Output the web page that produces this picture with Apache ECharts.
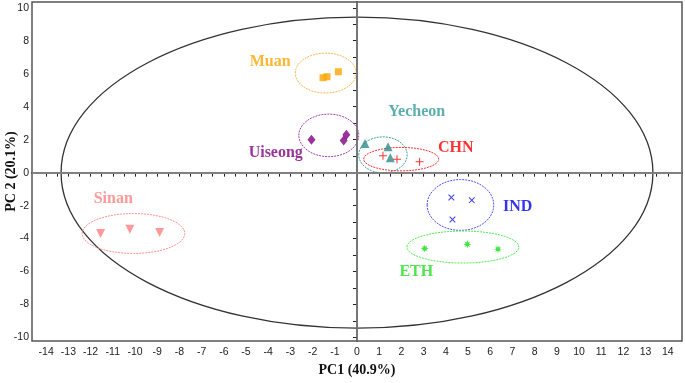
<!DOCTYPE html>
<html>
<head>
<meta charset="utf-8">
<script src="https://cdn.jsdelivr.net/npm/echarts@6/dist/echarts.min.js"></script>
<style>
  html, body { margin: 0; padding: 0; background: #fff; }
  #main { width: 685px; height: 383px; }
</style>
</head>
<body>
<div id="main"></div>
<script>
// sample scores on PC1 / PC2
var muan    = [[-1.53, 5.76], [-1.35, 5.82], [-0.84, 6.12]];
var uiseong = [[-2.05, 2.00], [-0.48, 2.30], [-0.60, 1.95]];
var yecheon = [[0.36, 1.77], [1.40, 1.57], [1.50, 0.90]];
var chn     = [[1.17, 1.02], [1.80, 0.82], [2.82, 0.66]];
var sinan   = [[-11.55, -3.69], [-10.23, -3.43], [-8.89, -3.63]];
var ind     = [[4.25, -1.51], [5.17, -1.67], [4.30, -2.84]];
var eth     = [[3.05, -4.60], [4.97, -4.34], [6.35, -4.64]];

// group ellipses: centre x, centre y, half width, half height
var groupEllipses = [
  [-1.41, 6.04, 1.37, 1.21],
  [-1.27, 2.26, 1.35, 1.29],
  [1.17, 1.08, 1.09, 1.09],
  [1.99, 0.82, 1.69, 0.71],
  [-10.07, -3.69, 2.31, 1.21],
  [4.66, -1.96, 1.50, 1.54],
  [4.77, -4.51, 2.52, 0.97]
];
// Hotelling T2 ellipse
var bigEllipse = [[0, 0, 13.33, 9.43]];

var xLabels = [];
for (var i = -14; i <= 14; i++) xLabels.push(i);
var xTicks = [];
for (var i = -28; i <= 28; i++) xTicks.push(i / 2);
var yLabels = [-10, -8, -6, -4, -2, 0, 2, 4, 6, 8, 10];
var yTicks = [];
for (var i = -10; i <= 10; i++) yTicks.push(i);

var colors = {
  Muan: '#FFA500', Uiseong: '#800080', Yecheon: '#2E8B8B', CHN: '#FF0000',
  Sinan: '#FF7F7F', IND: '#1010DD', ETH: '#11DD11'
};
var ringColors = ['#FFB84D', '#A040B0', '#40A0A0', '#FF3030', '#FF9090', '#5050FF', '#50EE50'];

var plusPath = 'path://M3.5,0H4.5V3.5H8V4.5H4.5V8H3.5V4.5H0V3.5H3.5Z';
var starPath = 'path://M4,0L4.7,2.3L6.8,1.2L5.7,3.3L8,4L5.7,4.7L6.8,6.8L4.7,5.7L4,8L3.3,5.7L1.2,6.8L2.3,4.7L0,4L2.3,3.3L1.2,1.2L3.3,2.3Z';

function ellipseRender(strokeFn, width, dash) {
  return function (params, api) {
    var c = api.coord([api.value(0), api.value(1)]);
    var s = api.size([api.value(2), api.value(3)]);
    return {
      type: 'ellipse',
      shape: { cx: c[0], cy: c[1], rx: s[0], ry: s[1] },
      style: { fill: 'none', stroke: strokeFn(params.dataIndex), lineWidth: width, lineDash: dash }
    };
  };
}

function pts(name, data, symbol, size, rotate) {
  return {
    name: name, type: 'scatter', data: data, symbol: symbol,
    symbolSize: size, symbolRotate: rotate || 0,
    itemStyle: { color: colors[name] }, z: 5
  };
}

var chartDom = document.getElementById('main');
var myChart = echarts.init(chartDom);
var option;

option = {
  animation: false,
  grid: {
    left: 32, right: 3, top: 2, bottom: 42, outerBoundsMode: 'none',
    show: true, borderColor: '#555', borderWidth: 1.5
  },
  xAxis: {
    type: 'value', min: -14.64, max: 14.64,
    name: 'PC1 (40.9%)', nameLocation: 'middle', nameGap: 22, nameMoveOverlap: false,
    nameTextStyle: { fontFamily: 'Liberation Serif', fontWeight: 'bold', fontSize: 14, color: '#111' },
    axisLine: { show: true, lineStyle: { color: '#222', width: 1.5 } },
    axisTick: { show: true, length: 4, customValues: xTicks, lineStyle: { color: '#222' } },
    axisLabel: { customValues: xLabels, fontFamily: 'Liberation Sans', fontSize: 10.5, color: '#222', margin: 6 },
    splitLine: { show: false }
  },
  yAxis: {
    type: 'value', min: -10.21, max: 10.35,
    name: 'PC 2 (20.1%)', nameLocation: 'middle', nameGap: 14, nameMoveOverlap: false,
    nameTextStyle: { fontFamily: 'Liberation Serif', fontWeight: 'bold', fontSize: 14, color: '#111' },
    axisLine: { show: true, lineStyle: { color: '#222', width: 1.5 } },
    axisTick: { show: true, length: 4, customValues: yTicks, lineStyle: { color: '#222' } },
    axisLabel: { customValues: yLabels, fontFamily: 'Liberation Sans', fontSize: 10.5, color: '#222', margin: 3 },
    splitLine: { show: false }
  },
  series: [
    {
      type: 'scatter', data: [], silent: true,
      markLine: {
        silent: true, symbol: 'none', label: { show: false },
        lineStyle: { color: '#808080', type: 'solid' },
        data: [
          { xAxis: 0, lineStyle: { width: 1.5 } },
          { yAxis: 0, lineStyle: { width: 2 } }
        ]
      }
    },
    {
      type: 'custom', data: bigEllipse, silent: true, z: 2,
      renderItem: ellipseRender(function () { return '#333'; }, 1.3, null)
    },
    {
      type: 'custom', data: groupEllipses, silent: true, z: 3,
      renderItem: ellipseRender(function (i) { return ringColors[i]; }, 1, [2, 1])
    },
    pts('Muan', muan, 'rect', 7),
    pts('Uiseong', uiseong, 'diamond', [8, 10]),
    pts('Yecheon', yecheon, 'triangle', 9),
    pts('CHN', chn, plusPath, 8),
    pts('Sinan', sinan, 'triangle', 9, 180),
    pts('IND', ind, plusPath, 8, 45),
    pts('ETH', eth, starPath, 8),
    {
      type: 'scatter', symbolSize: 0, silent: true, z: 6,
      label: {
        show: true, position: 'inside', formatter: '{b}',
        fontFamily: 'Liberation Serif', fontWeight: 'bold', fontSize: 16
      },
      data: [
        { name: 'Muan', value: [-3.91, 6.71], label: { color: colors.Muan } },
        { name: 'Uiseong', value: [-3.66, 1.20], label: { color: colors.Uiseong } },
        { name: 'Yecheon', value: [2.69, 3.69], label: { color: '#339999' } },
        { name: 'CHN', value: [4.45, 1.49], label: { color: colors.CHN } },
        { name: 'Sinan', value: [-10.98, -1.61], label: { color: '#FF8080' } },
        { name: 'IND', value: [7.24, -2.08], label: { color: '#0000EE' } },
        { name: 'ETH', value: [2.67, -6.02], label: { color: '#22E022' } }
      ]
    }
  ]
};

option && myChart.setOption(option);
</script>
</body>
</html>
